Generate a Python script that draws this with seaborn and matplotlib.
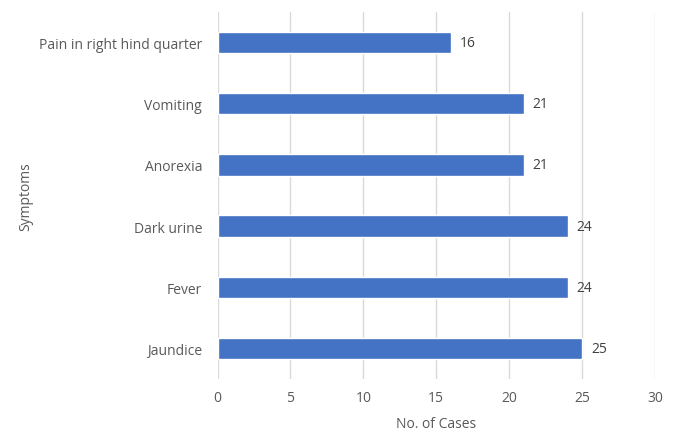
import matplotlib
matplotlib.use("Agg")
import matplotlib.pyplot as plt
import seaborn as sns
import pandas as pd

symptoms = ["Pain in right hind quarter", "Vomiting", "Anorexia", "Dark urine", "Fever", "Jaundice"]
cases = [16, 21, 21, 24, 24, 25]
x_ticks = [0, 5, 10, 15, 20, 25, 30]

sns.set_theme(style="white")
plt.rcParams["font.family"] = ["Open Sans", "DejaVu Sans"]

df = pd.DataFrame({"Symptoms": symptoms, "Cases": cases})

fig = plt.figure(figsize=(6.73, 4.31), dpi=100)
ax = fig.add_axes([217.5 / 673, 1 - 380 / 431, (655 - 217.5) / 673, 367 / 431])

sns.barplot(data=df, y="Symptoms", x="Cases", order=symptoms, color="#4472C4",
            width=0.35, saturation=1, ax=ax, zorder=3)

ax.set_xlim(0, 30)
ax.set_ylim(5.5, -0.5)
ax.set_xticks(x_ticks)
ax.xaxis.grid(True, color="#d9d9d9", linewidth=1, zorder=0)
ax.yaxis.grid(False)
for s in ax.spines.values():
    s.set_visible(False)

ax.tick_params(axis="both", length=0, labelsize=10, colors="#595959")
ax.tick_params(axis="x", pad=8)
ax.tick_params(axis="y", pad=11)

for i, v in enumerate(cases):
    ax.annotate(str(v), xy=(v, i), xytext=(6.5, 0), textcoords="offset points",
                ha="left", va="center", fontsize=10, color="#404040")

ax.set_xlabel("No. of Cases", fontsize=10, color="#595959", labelpad=8)
ax.set_ylabel("Symptoms", fontsize=10, color="#595959", labelpad=4)

fig.savefig("out.png", dpi=100)
